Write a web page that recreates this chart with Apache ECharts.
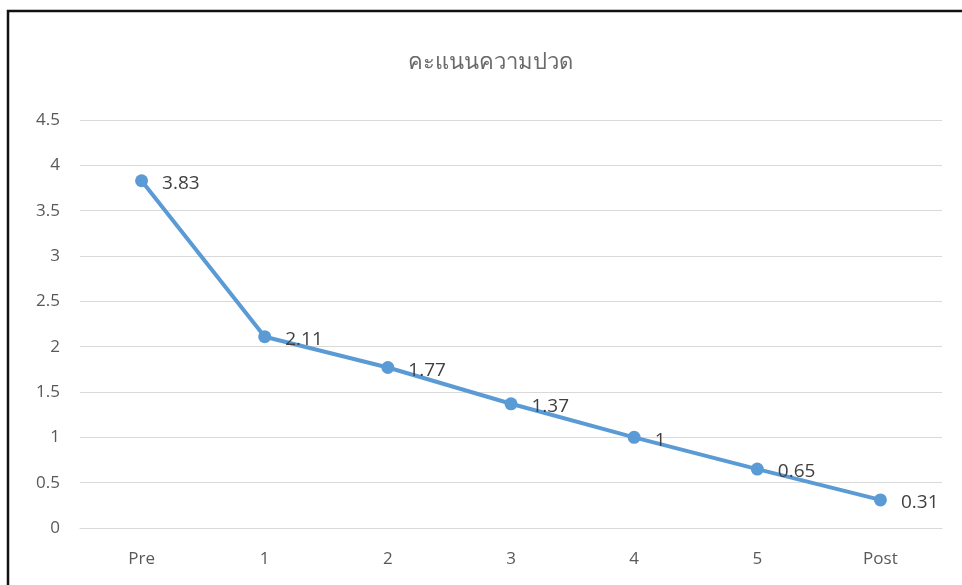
<!DOCTYPE html>
<html><head><meta charset="utf-8">
<script src="https://cdn.jsdelivr.net/npm/echarts@6/dist/echarts.min.js"></script>
<style>html,body{margin:0;padding:0;background:#fff}#c{width:962px;height:585px}</style>
</head><body><div id="c"></div>
<script>
const titleText = 'คะแนนความปวด';
const categories = ['Pre', '1', '2', '3', '4', '5', 'Post'];
const painScores = [3.83, 2.11, 1.77, 1.37, 1, 0.65, 0.31];
const yTicks = [0, 0.5, 1, 1.5, 2, 2.5, 3, 3.5, 4, 4.5];

const font = '"Open Sans", "Noto Sans", sans-serif';
const chart = echarts.init(document.getElementById('c'));
chart.setOption({
  animation: false,
  graphic: [{
    type: 'rect', shape: {x: 8, y: 11, width: 980, height: 600},
    style: {fill: 'none', stroke: '#111', lineWidth: 2.5}, silent: true, z: 100
  }],
  title: {
    text: titleText, left: 485, top: 47, textAlign: 'center',
    textStyle: {color: '#6a6a6a', fontSize: 22, fontWeight: 'lighter', fontFamily: font}
  },
  grid: {left: 80, right: 20, top: 120, bottom: 57, containLabel: false},
  xAxis: {
    type: 'category', data: categories, boundaryGap: true,
    axisLine: {show: true, lineStyle: {color: '#d9d9d9', width: 1}},
    axisTick: {show: false},
    axisLabel: {color: '#595959', fontSize: 17, margin: 23, fontFamily: font}
  },
  yAxis: {
    type: 'value', min: yTicks[0], max: yTicks[yTicks.length - 1], interval: 0.5,
    axisLine: {show: false}, axisTick: {show: false},
    splitLine: {lineStyle: {color: '#d9d9d9', width: 1}},
    axisLabel: {color: '#595959', fontSize: 17, margin: 20, fontFamily: font}
  },
  series: [{
    type: 'line', data: painScores,
    symbol: 'circle', symbolSize: 13,
    lineStyle: {color: '#5B9BD5', width: 4},
    itemStyle: {color: '#5B9BD5'},
    label: {
      show: true, position: 'right', distance: 14, offset: [0, 3],
      color: '#404040', fontSize: 19, fontFamily: font
    }
  }]
});
</script></body></html>
